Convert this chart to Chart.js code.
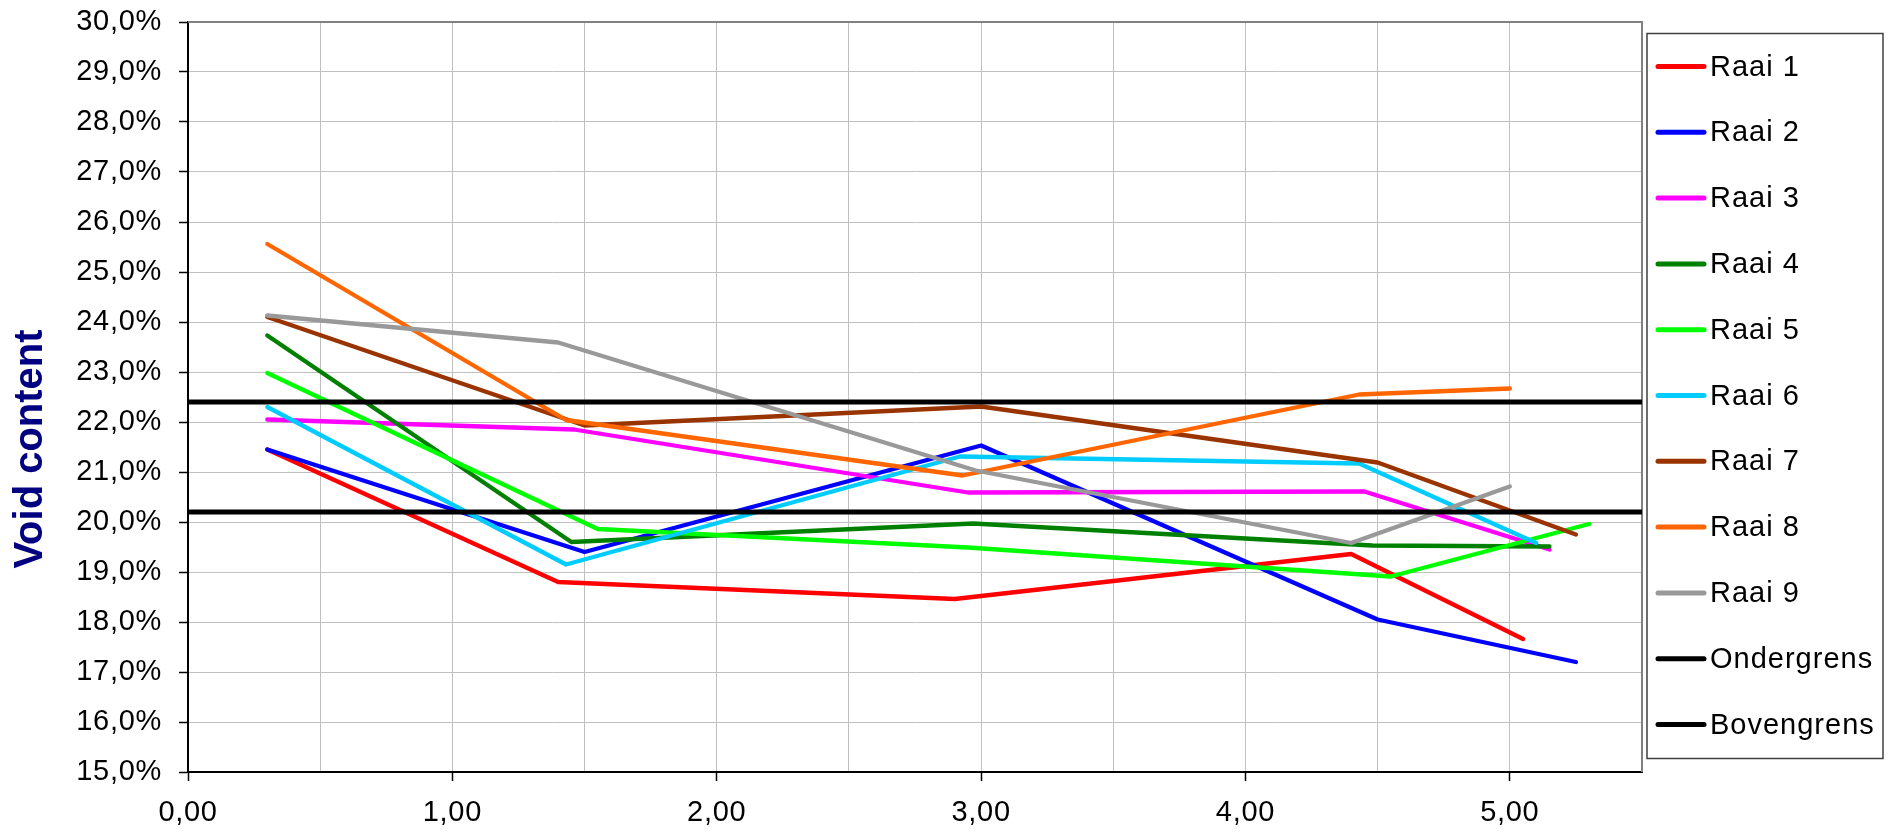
<!DOCTYPE html>
<html>
<head>
<meta charset="utf-8">
<script src="https://cdn.jsdelivr.net/npm/chart.js@4.4.1/dist/chart.umd.min.js"></script>
<style>
  html, body { margin: 0; padding: 0; background: #ffffff; }
  canvas { display: block; }
</style>
</head>
<body>
<canvas id="chart" width="1901" height="835"></canvas>
<script>
// Distance (x) and void content in % (y) per measuring line
const raai1X = [0.30, 1.40, 2.90, 4.40, 5.05];
const raai1Y = [21.45, 18.80, 18.46, 19.36, 17.66];
const raai2X = [0.30, 1.50, 3.00, 4.50, 5.25];
const raai2Y = [21.45, 19.40, 21.53, 18.05, 17.20];
const raai3X = [0.30, 1.46, 2.95, 4.45, 5.15];
const raai3Y = [22.05, 21.85, 20.59, 20.61, 19.45];
const raai4X = [0.30, 1.45, 2.97, 4.48, 5.15];
const raai4Y = [23.73, 19.60, 19.97, 19.53, 19.51];
const raai5X = [0.30, 1.55, 2.95, 4.55, 5.30];
const raai5Y = [22.98, 19.86, 19.49, 18.91, 19.96];
const raai6X = [0.30, 1.43, 2.92, 4.43, 5.10];
const raai6Y = [22.30, 19.15, 21.31, 21.17, 19.58];
const raai7X = [0.30, 1.50, 3.00, 4.50, 5.25];
const raai7Y = [24.10, 21.93, 22.31, 21.19, 19.75];
const raai8X = [0.30, 1.43, 2.93, 4.43, 5.00];
const raai8Y = [25.56, 22.04, 20.93, 22.55, 22.67];
const raai9X = [0.30, 1.40, 2.98, 4.40, 5.00];
const raai9Y = [24.13, 23.59, 21.03, 19.58, 20.71];

// Lower and upper limits
const limitX = [0, 5.5];
const ondergrensY = [20.2, 20.2];
const bovengrensY = [22.4, 22.4];

const seriesNames = ['Raai 1', 'Raai 2', 'Raai 3', 'Raai 4', 'Raai 5', 'Raai 6',
                     'Raai 7', 'Raai 8', 'Raai 9', 'Ondergrens', 'Bovengrens'];
const seriesColors = ['#ff0000', '#0000ff', '#ff00ff', '#008000', '#00ff00', '#00ccff',
                      '#993300', '#ff6600', '#999999', '#000000', '#000000'];
const seriesX = [raai1X, raai2X, raai3X, raai4X, raai5X, raai6X, raai7X, raai8X, raai9X, limitX, limitX];
const seriesY = [raai1Y, raai2Y, raai3Y, raai4Y, raai5Y, raai6Y, raai7Y, raai8Y, raai9Y, ondergrensY, bovengrensY];

// Axis ranges and tick label formatting
const xMin = 0, xMax = 5.5, xStep = 0.5;
const yMin = 15, yMax = 30, yStep = 1;
const yAxisTitle = 'Void content';

const FONT = '"Liberation Sans", Arial, sans-serif';
const isWhole = v => Math.abs(v - Math.round(v)) < 1e-9;
const fmtX = v => isWhole(v) ? v.toFixed(2).replace('.', ',') : '';
const fmtY = v => v.toFixed(1).replace('.', ',') + '%';

const datasets = seriesNames.map((name, i) => ({
  label: name,
  data: seriesX[i].map((x, k) => ({ x: x, y: seriesY[i][k] })),
  borderColor: seriesColors[i],
  backgroundColor: seriesColors[i],
  borderWidth: i >= 9 ? 5 : 4.3,
  borderCapStyle: 'round',
  borderJoinStyle: 'round',
  pointRadius: 0,
  pointHoverRadius: 0,
  tension: 0,
  fill: false,
  order: seriesNames.length - i
}));

// Slightly wider letter spacing for the tick labels
const spacingPlugin = {
  id: 'spacing',
  beforeDraw(chart) {
    if ('letterSpacing' in chart.ctx) chart.ctx.letterSpacing = '0.7px';
  }
};

// Gray frame on the top and right of the plot area
const framePlugin = {
  id: 'frame',
  beforeDatasetsDraw(chart) {
    const a = chart.chartArea, ctx = chart.ctx;
    ctx.save();
    ctx.strokeStyle = '#808080';
    ctx.lineWidth = 2;
    ctx.beginPath();
    ctx.moveTo(a.left, a.top);
    ctx.lineTo(a.right, a.top);
    ctx.lineTo(a.right, a.bottom);
    ctx.stroke();
    ctx.restore();
  }
};

// Rotated axis title on the left
const titlePlugin = {
  id: 'yTitle',
  afterDraw(chart) {
    const a = chart.chartArea, ctx = chart.ctx;
    ctx.save();
    if ('letterSpacing' in ctx) ctx.letterSpacing = '0px';
    ctx.translate(31, (a.top + a.bottom) / 2 + 52);
    ctx.rotate(-Math.PI / 2);
    ctx.font = 'bold 40px ' + FONT;
    ctx.fillStyle = '#000080';
    ctx.textAlign = 'center';
    ctx.textBaseline = 'middle';
    ctx.fillText(yAxisTitle, 0, 0);
    ctx.restore();
  }
};

// Boxed legend to the right of the plot area
const legendPlugin = {
  id: 'boxLegend',
  afterDraw(chart) {
    const a = chart.chartArea, ctx = chart.ctx;
    const boxL = a.right + 5, boxT = a.top + 11.5, boxW = 236, boxH = 725;
    ctx.save();
    ctx.strokeStyle = '#404040';
    ctx.lineWidth = 1.5;
    ctx.strokeRect(boxL, boxT, boxW, boxH);
    if ('letterSpacing' in ctx) ctx.letterSpacing = '1px';
    ctx.font = '29px ' + FONT;
    ctx.textBaseline = 'middle';
    ctx.textAlign = 'left';
    const step = 65.8;
    chart.data.datasets.forEach((ds, i) => {
      const cy = boxT + 33 + i * step;
      ctx.strokeStyle = ds.borderColor;
      ctx.lineWidth = 5;
      ctx.lineCap = 'round';
      ctx.beginPath();
      ctx.moveTo(boxL + 11, cy);
      ctx.lineTo(boxL + 57, cy);
      ctx.stroke();
      ctx.fillStyle = '#000000';
      ctx.fillText(ds.label, boxL + 63, cy + 1);
    });
    ctx.restore();
  }
};

// Keep the plot area fixed: no extra room reserved for half tick labels
const noScalePadding = scale => {
  scale.paddingTop = 0;
  scale.paddingBottom = 0;
  scale.paddingLeft = 0;
  scale.paddingRight = 0;
};

new Chart(document.getElementById('chart'), {
  type: 'line',
  data: { datasets: datasets },
  options: {
    responsive: false,
    animation: false,
    events: [],
    layout: { padding: { left: 0, top: 22, right: 259, bottom: 0 } },
    plugins: {
      legend: { display: false },
      tooltip: { enabled: false },
      title: { display: false }
    },
    scales: {
      x: {
        type: 'linear',
        min: xMin,
        max: xMax,
        afterFit(scale) { scale.height = 63; noScalePadding(scale); },
        border: { display: true, color: '#000000', width: 2 },
        grid: {
          color: c => (c.tick && c.tick.value === xMin) ? 'rgba(0,0,0,0)' : '#c0c0c0',
          lineWidth: 1,
          tickLength: 9,
          tickColor: c => (c.tick && isWhole(c.tick.value)) ? '#000000' : 'rgba(0,0,0,0)',
          tickWidth: 1.5
        },
        ticks: {
          stepSize: xStep,
          autoSkip: false,
          maxRotation: 0,
          padding: 15,
          color: '#000000',
          font: { family: FONT, size: 29 },
          callback: v => fmtX(v)
        }
      },
      y: {
        type: 'linear',
        min: yMin,
        max: yMax,
        afterFit(scale) { scale.width = 188; noScalePadding(scale); },
        border: { display: true, color: '#000000', width: 2 },
        grid: {
          color: '#c0c0c0',
          lineWidth: 1,
          tickLength: 9,
          tickColor: '#000000',
          tickWidth: 1.5
        },
        ticks: {
          stepSize: yStep,
          autoSkip: false,
          padding: 17,
          color: '#000000',
          font: { family: FONT, size: 29 },
          callback: v => fmtY(v)
        }
      }
    }
  },
  plugins: [spacingPlugin, framePlugin, titlePlugin, legendPlugin]
});
</script>
</body>
</html>
